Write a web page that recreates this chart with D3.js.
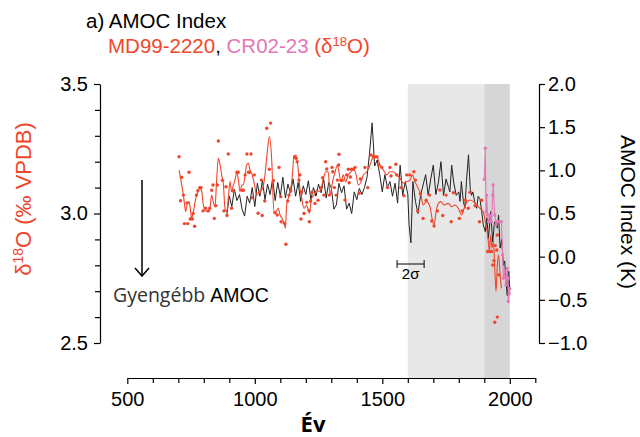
<!DOCTYPE html>
<html>
<head>
<meta charset="utf-8">
<script src="https://cdn.jsdelivr.net/npm/d3@7"></script>
<style>
  body { margin: 0; background: #fff; }
  svg text { font-family: "Liberation Sans", Arial, Helvetica, sans-serif; }
</style>
</head>
<body>
<div id="chart"></div>
<script>
// MD99-2220 d18O dots [year, permil]
var md99Dots = [
  [703,3.219],[709,3.049],[713,3.140],[720,3.071],[724,2.961],[734,3.041],[737,2.961],[742,3.159],
  [747,2.979],[755,2.979],[758,3.000],[764,2.951],[771,3.071],[777,3.088],[784,3.100],[789,3.100],
  [797,3.010],[807,3.020],[818,3.010],[823,3.020],[831,3.090],[836,3.110],[841,2.981],[847,3.030],
  [853,3.110],[857,3.280],[873,3.128],[879,3.010],[887,3.103],[891,2.992],[896,3.230],[909,3.020],
  [915,3.087],[930,3.159],[935,3.159],[951,3.090],[955,3.090],[962,3.149],[969,3.230],[975,3.159],
  [980,3.159],[985,3.230],[990,3.061],[998,3.149],[1013,3.001],[1018,3.082],[1026,3.129],[1029,2.992],
  [1039,3.048],[1047,3.329],[1057,3.171],[1062,3.349],[1073,3.127],[1079,3.003],[1088,2.994],[1095,3.178],
  [1102,3.065],[1103,2.968],[1116,2.962],[1122,2.881],[1129,3.048],[1134,3.071],[1141,3.087],[1156,3.219],
  [1162,3.213],[1166,3.200],[1173,3.129],[1177,3.149],[1181,2.979],[1184,3.084],[1193,3.000],[1204,3.043],
  [1213,3.012],[1214,2.968],[1219,3.048],[1224,3.082],[1236,3.039],[1248,3.051],[1260,3.100],[1266,3.138],
  [1271,3.071],[1278,3.200],[1282,3.172],[1292,3.071],[1303,3.178],[1306,3.161],[1312,3.100],[1319,3.071],
  [1324,3.129],[1329,3.187],[1330,3.229],[1338,3.128],[1343,3.128],[1354,3.052],[1360,3.149],[1367,3.171],
  [1370,3.119],[1375,3.141],[1380,3.171],[1386,3.171],[1393,3.178],[1409,3.078],[1414,3.133],[1432,3.178],
  [1443,3.100],[1456,3.226],[1465,3.219],[1471,3.219],[1479,3.219],[1486,3.187],[1498,3.178],[1520,3.100],
  [1530,3.178],[1534,3.145],[1553,3.190],[1557,3.149],[1573,3.100],[1585,3.069],[1596,3.149],[1608,3.149],
  [1624,3.161],[1630,3.129],[1639,3.010],[1649,3.076],[1660,2.981],[1672,3.051],[1685,3.071],[1694,2.971],
  [1703,2.952],[1716,3.010],[1726,3.091],[1737,2.992],[1750,3.071],[1770,2.968],[1779,3.080],[1802,2.981],
  [1813,3.010],[1826,3.051],[1837,3.020],[1844,3.082],[1864,3.030],[1881,2.968],[1890,3.051],[1913,2.853],
  [1922,2.853],[1929,2.853],[1933,2.801],[1938,2.818],[1941,2.580],[1943,2.876],[1949,2.859],[1951,2.917],
  [1951,2.600],[1957,2.763]
];

// MD99-2220 smoothed curve [year, permil]
var md99Smooth = [
  [703,3.168],[711,3.123],[720,3.071],[729,3.007],[734,3.033],[742,3.046],[747,3.020],[752,2.981],
  [758,3.001],[766,3.046],[772,3.071],[779,3.091],[785,3.097],[792,3.084],[798,3.033],[805,3.014],
  [815,3.007],[823,3.014],[831,3.071],[837,3.046],[844,3.026],[850,3.123],[857,3.213],[864,3.187],
  [870,3.149],[877,3.110],[883,3.020],[890,3.007],[896,3.059],[903,3.123],[909,3.084],[916,3.110],
  [922,3.129],[929,3.155],[935,3.136],[942,3.084],[949,3.110],[955,3.110],[962,3.149],[968,3.187],
  [975,3.194],[981,3.168],[990,3.149],[999,3.110],[1007,3.071],[1020,3.084],[1031,3.097],[1040,3.149],
  [1049,3.239],[1057,3.297],[1066,3.213],[1075,3.007],[1083,3.007],[1092,3.020],[1099,2.994],[1107,2.981],
  [1115,2.962],[1120,2.943],[1125,3.033],[1135,3.071],[1145,3.123],[1154,3.220],[1162,3.226],[1171,3.161],
  [1177,3.097],[1184,3.059],[1193,3.020],[1203,3.033],[1214,3.001],[1223,3.059],[1232,3.071],[1243,3.091],
  [1256,3.084],[1269,3.136],[1279,3.161],[1288,3.161],[1295,3.071],[1305,3.123],[1315,3.161],[1324,3.187],
  [1330,3.161],[1338,3.123],[1347,3.149],[1356,3.123],[1367,3.149],[1377,3.161],[1386,3.174],[1396,3.155],
  [1406,3.110],[1417,3.123],[1426,3.149],[1439,3.161],[1452,3.187],[1461,3.213],[1471,3.220],[1482,3.213],
  [1491,3.187],[1504,3.168],[1517,3.149],[1530,3.161],[1543,3.161],[1556,3.149],[1569,3.136],[1583,3.117],
  [1596,3.123],[1609,3.129],[1618,3.149],[1628,3.123],[1641,3.097],[1652,3.071],[1660,3.033],[1674,3.046],
  [1687,3.026],[1695,2.981],[1703,2.956],[1711,3.007],[1720,3.039],[1729,3.046],[1742,3.033],[1759,3.039],
  [1772,3.026],[1785,3.033],[1798,3.020],[1811,2.994],[1821,3.020],[1831,3.043],[1844,3.052],[1857,3.046],
  [1870,3.033],[1883,3.020],[1896,3.007],[1904,2.968],[1909,2.943],[1916,2.891],[1920,2.853],[1925,2.917],
  [1930,2.866],[1936,2.891],[1941,2.788],[1946,2.698],[1951,2.801],[1956,2.840],[1962,2.763],[1967,2.711]
];

// CR02-23 d18O [year, permil]
var cr02Dots = [
  [1900,3.132],[1904,3.252],[1907,3.007],[1909,3.071],[1913,2.994],[1917,2.968],[1922,2.994],[1928,2.968],
  [1933,3.071],[1935,3.110],[1941,2.994],[1946,2.956],[1951,2.968],[1959,2.968],[1967,2.968],[1972,2.840],
  [1975,2.750],[1981,2.776],[1985,2.724],[1990,2.788],[1993,2.750],[1994,2.660],[1998,2.691],[2000,2.711]
];

// AMOC index [year, K]
var amocIndex = [
  [890,0.48],[900,0.70],[910,0.58],[920,0.78],[930,0.65],[940,0.72],[950,0.55],[960,0.47],[970,0.70],
  [980,0.62],[990,0.80],[1000,0.58],[1010,0.85],[1020,0.70],[1030,0.88],[1040,0.66],[1050,0.84],[1060,0.72],
  [1070,0.90],[1080,0.65],[1090,0.86],[1100,0.70],[1110,0.92],[1120,0.68],[1130,0.84],[1140,0.74],[1150,0.90],
  [1160,0.70],[1170,0.86],[1180,0.64],[1190,0.82],[1200,0.72],[1210,0.88],[1220,0.66],[1230,0.80],[1240,0.70],
  [1250,0.84],[1260,0.74],[1270,0.90],[1280,0.68],[1290,0.86],[1300,0.80],[1310,0.55],[1320,0.60],[1330,0.85],
  [1340,0.74],[1350,0.82],[1360,0.55],[1370,0.62],[1380,0.50],[1390,0.75],[1400,0.66],[1410,0.79],[1420,0.72],
  [1430,0.80],[1440,0.92],[1450,1.20],[1460,1.55],[1470,1.05],[1480,1.12],[1490,0.95],[1500,0.75],[1510,0.95],
  [1520,0.80],[1530,0.87],[1540,0.70],[1550,0.85],[1560,0.62],[1570,1.06],[1580,0.71],[1590,0.87],[1600,0.72],
  [1605,0.37],[1612,0.16],[1620,0.87],[1630,0.64],[1640,0.50],[1650,0.71],[1660,0.83],[1670,0.95],[1680,0.71],
  [1690,0.90],[1700,1.06],[1710,0.72],[1720,0.86],[1730,1.10],[1740,0.71],[1750,0.90],[1760,0.80],[1765,0.75],
  [1772,1.06],[1780,0.86],[1790,0.71],[1800,0.75],[1805,0.64],[1810,0.87],[1818,0.64],[1824,0.56],[1830,0.87],
  [1838,1.18],[1845,0.78],[1850,0.71],[1855,0.75],[1862,0.64],[1870,0.56],[1876,0.70],[1883,0.67],[1890,0.52],
  [1896,0.37],[1904,0.29],[1910,0.45],[1916,0.21],[1925,0.52],[1933,0.17],[1940,0.40],[1946,0.40],[1951,0.33],
  [1956,0.48],[1962,0.10],[1968,0.20],[1975,-0.10],[1980,-0.05],[1985,-0.29],[1990,-0.45],[1996,-0.17],[2000,-0.40]
];

var leftTicks = [2.5, 3.0, 3.5];
var leftMinor = [2.6, 2.7, 2.8, 2.9, 3.1, 3.2, 3.3, 3.4];
var rightTicks = [-1.0, -0.5, 0.0, 0.5, 1.0, 1.5, 2.0];
var yearTicks = [500, 1000, 1500, 2000];
var yearMinor = [600, 700, 800, 900, 1100, 1200, 1300, 1400, 1600, 1700, 1800, 1900, 2100];
var shadeSpans = [[1600, 1900], [1900, 2000]];
var twoSigmaSpan = [1558, 1664];

var red = "#f0462b", pink = "#e377b8";

var svg = d3.select("#chart").append("svg")
    .attr("width", 640).attr("height", 437);

var x = d3.scaleLinear().domain([500, 2100]).range([127.3, 535.3]);
var yL = d3.scaleLinear().domain([2.5, 3.5]).range([343, 84]);
var yR = d3.scaleLinear().domain([-1, 2]).range([343, 84]);

var noLabel = () => "";

// shaded periods
svg.selectAll("rect.shade")
    .data(shadeSpans)
    .enter().append("rect")
    .attr("x", d => x(d[0]))
    .attr("width", d => x(d[1]) - x(d[0]))
    .attr("y", 84).attr("height", 294)
    .attr("fill", (d, i) => i === 0 ? "#e8e8e8" : "#d6d6d6");

// axes
var leftAxis = svg.append("g").attr("transform", "translate(100,0)")
    .call(d3.axisLeft(yL).tickValues(leftTicks).tickFormat(d3.format(".1f")).tickSize(6).tickSizeOuter(0));
var leftMin = svg.append("g").attr("transform", "translate(100,0)")
    .call(d3.axisLeft(yL).tickValues(leftMinor).tickFormat(noLabel).tickSize(5).tickSizeOuter(0));
leftMin.select(".domain").remove();

var rightAxis = svg.append("g").attr("transform", "translate(539,0)")
    .call(d3.axisRight(yR).tickValues(rightTicks).tickFormat(d3.format(".1f")).tickSize(6).tickSizeOuter(0));

var bottomAxis = svg.append("g").attr("transform", "translate(0,378)")
    .call(d3.axisBottom(x).tickValues(yearTicks).tickFormat(d3.format("d")).tickSize(6).tickSizeOuter(0));
var bottomMin = svg.append("g").attr("transform", "translate(0,378)")
    .call(d3.axisBottom(x).tickValues(yearMinor).tickFormat(noLabel).tickSize(5).tickSizeOuter(0));
bottomMin.select(".domain").remove();

svg.selectAll(".tick text")
    .style("font-size", "20px")
    .style("font-family", "Liberation Sans, Arial, sans-serif")
    .attr("fill", "#000");
svg.selectAll(".domain, .tick line").attr("stroke", "#000").attr("stroke-width", 1.2);
leftAxis.selectAll(".tick text").attr("x", -12);
rightAxis.selectAll(".tick text").attr("x", 9);
bottomAxis.selectAll(".tick text").attr("y", 14);

// AMOC index line
svg.append("path")
    .datum(amocIndex)
    .attr("fill", "none")
    .attr("stroke", "#222")
    .attr("stroke-width", 1)
    .attr("d", d3.line().x(d => x(d[0])).y(d => yR(d[1])));

// MD99-2220 curve and dots
svg.append("path")
    .datum(md99Smooth)
    .attr("fill", "none")
    .attr("stroke", red)
    .attr("stroke-width", 1.1)
    .attr("d", d3.line().curve(d3.curveMonotoneX).x(d => x(d[0])).y(d => yL(d[1])));

svg.selectAll("circle.md99")
    .data(md99Dots)
    .enter().append("circle")
    .attr("cx", d => x(d[0])).attr("cy", d => yL(d[1]))
    .attr("r", 1.7).attr("fill", red);

// CR02-23
svg.append("path")
    .datum(cr02Dots)
    .attr("fill", "none")
    .attr("stroke", pink)
    .attr("stroke-width", 1.1)
    .attr("d", d3.line().x(d => x(d[0])).y(d => yL(d[1])));

svg.selectAll("circle.cr02")
    .data(cr02Dots)
    .enter().append("circle")
    .attr("cx", d => x(d[0])).attr("cy", d => yL(d[1]))
    .attr("r", 1.7).attr("fill", pink);

// 2 sigma bar
var sig = svg.append("g").attr("stroke", "#000").attr("stroke-width", 1);
sig.append("line").attr("x1", x(twoSigmaSpan[0])).attr("x2", x(twoSigmaSpan[1])).attr("y1", 264).attr("y2", 264);
sig.append("line").attr("x1", x(twoSigmaSpan[0])).attr("x2", x(twoSigmaSpan[0])).attr("y1", 260).attr("y2", 268);
sig.append("line").attr("x1", x(twoSigmaSpan[1])).attr("x2", x(twoSigmaSpan[1])).attr("y1", 260).attr("y2", 268);
svg.append("text").attr("x", x(d3.mean(twoSigmaSpan))).attr("y", 279)
    .attr("text-anchor", "middle").style("font-size", "15px").text("2σ");

// arrow + annotation
svg.append("line").attr("x1", 142).attr("x2", 142).attr("y1", 180).attr("y2", 276)
    .attr("stroke", "#000").attr("stroke-width", 1.5);
svg.append("path").attr("d", "M135,268 L142,276 L149,268")
    .attr("fill", "none").attr("stroke", "#000").attr("stroke-width", 1.5);
var ann = svg.append("text").attr("x", 113).attr("y", 302).style("font-size", "19.5px");
ann.append("tspan").style("font-family", "Open Sans, sans-serif").attr("fill", "#333").text("Gyengébb ");
ann.append("tspan").style("font-family", "Liberation Sans, Arial, sans-serif").text("AMOC");

// titles
svg.append("text").attr("x", 86).attr("y", 28).style("font-size", "20.5px").text("a) AMOC Index");
var sub = svg.append("text").attr("x", 108).attr("y", 53).style("font-size", "20.5px");
sub.append("tspan").attr("fill", red).text("MD99-2220");
sub.append("tspan").attr("fill", "#000").text(", ");
sub.append("tspan").attr("fill", pink).text("CR02-23 ");
sub.append("tspan").attr("fill", red).text("(δ");
sub.append("tspan").attr("fill", red).attr("dy", -7).style("font-size", "13px").text("18");
sub.append("tspan").attr("fill", red).attr("dy", 7).text("O)");

// axis titles
var lt = svg.append("text").attr("transform", "translate(31,199) rotate(-90)")
    .attr("text-anchor", "middle").style("font-size", "22px").attr("fill", red);
lt.append("tspan").text("δ");
lt.append("tspan").attr("dy", -8).style("font-size", "14px").text("18");
lt.append("tspan").attr("dy", 8).text("O (‰ VPDB)");

svg.append("text").attr("transform", "translate(621,212) rotate(90)")
    .attr("text-anchor", "middle").style("font-size", "21px").text("AMOC Index (K)");

svg.append("text").attr("x", 313).attr("y", 432).attr("text-anchor", "middle")
    .style("font-family", "Open Sans, sans-serif").style("font-weight", "bold").style("font-size", "22px")
    .text("Év");
</script>
</body>
</html>
